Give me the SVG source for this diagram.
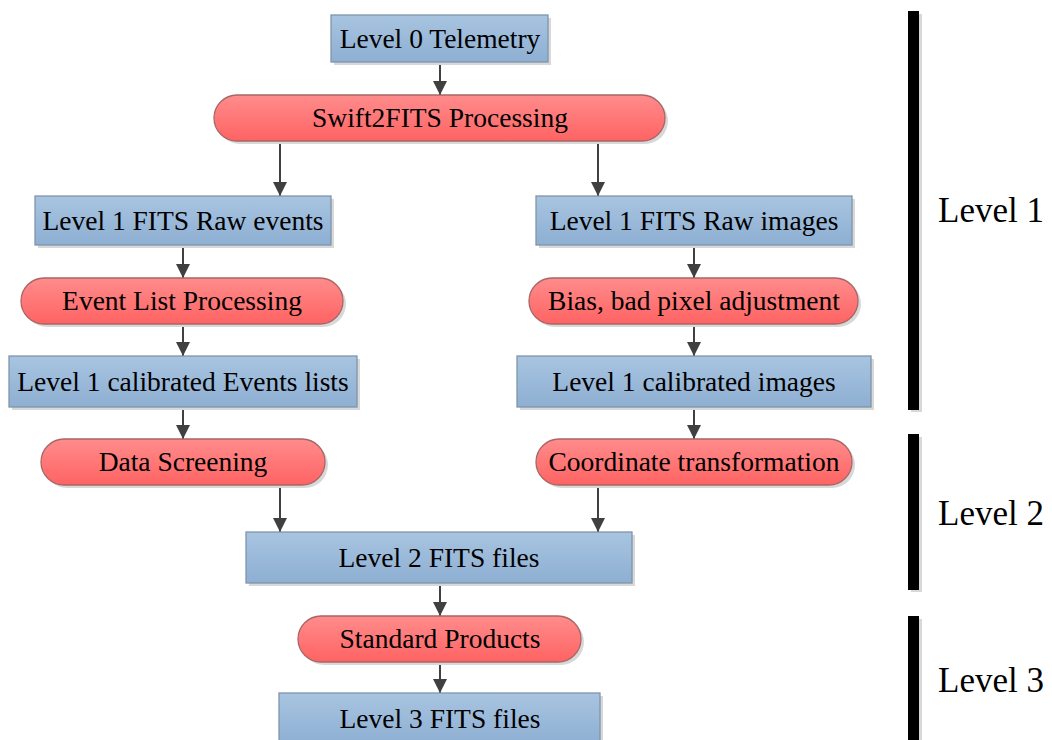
<svg xmlns="http://www.w3.org/2000/svg" width="1052" height="740" viewBox="0 0 1052 740">
<style>
.box{fill:url(#gb);stroke:#7f95ab;stroke-width:1.3}
.pill{fill:url(#gr);stroke:#a86666;stroke-width:1.3}
.sh{fill:#d8d8d8}
.t{font-family:"Liberation Serif","Times New Roman",serif;font-size:27.5px;fill:#000;text-anchor:middle}
.lv{font-family:"Liberation Serif","Times New Roman",serif;font-size:35px;fill:#000}
.c{stroke:#404040;stroke-width:2;fill:none;marker-end:url(#ah)}
.bar{fill:#000}
</style>
<defs>
<linearGradient id="gb" x1="0" y1="0" x2="0" y2="1"><stop offset="0" stop-color="#a8c4e0"/><stop offset="1" stop-color="#8eafd3"/></linearGradient>
<linearGradient id="gr" x1="0" y1="0" x2="0" y2="1"><stop offset="0" stop-color="#ff8c8c"/><stop offset="1" stop-color="#ff6363"/></linearGradient>
<marker id="ah" markerWidth="14" markerHeight="14" refX="14" refY="7" orient="auto" markerUnits="userSpaceOnUse"><path d="M0,0 L14,7 L0,14 Z" fill="#404040"/></marker>
</defs>
<g id="connectors">
<line class="c" x1="440" y1="62" x2="440" y2="95"/>
<line class="c" x1="280" y1="141" x2="280" y2="196"/>
<line class="c" x1="598" y1="141" x2="598" y2="196"/>
<line class="c" x1="183" y1="245" x2="183" y2="278"/>
<line class="c" x1="183" y1="324" x2="183" y2="356"/>
<line class="c" x1="183" y1="407" x2="183" y2="439"/>
<line class="c" x1="694" y1="245" x2="694" y2="278"/>
<line class="c" x1="694" y1="324" x2="694" y2="356"/>
<line class="c" x1="694" y1="407" x2="694" y2="439"/>
<line class="c" x1="280" y1="485" x2="280" y2="532"/>
<line class="c" x1="598" y1="485" x2="598" y2="532"/>
<line class="c" x1="440" y1="583" x2="440" y2="616"/>
<line class="c" x1="440" y1="662" x2="440" y2="693"/>
</g>
<g id="n0"><rect class="sh" x="334" y="18" width="217" height="47"/><rect class="box" x="331" y="15" width="217" height="47"/><text class="t" x="440" y="48">Level 0 Telemetry</text></g>
<g id="n1"><rect class="sh" x="217" y="98" width="451" height="46" rx="23"/><rect class="pill" x="214" y="95" width="451" height="46" rx="23"/><text class="t" x="440" y="127">Swift2FITS Processing</text></g>
<g id="n2"><rect class="sh" x="38" y="199" width="296" height="49"/><rect class="box" x="35" y="196" width="296" height="49"/><text class="t" x="183" y="230">Level 1 FITS Raw events</text></g>
<g id="n3"><rect class="sh" x="539" y="199" width="316" height="49"/><rect class="box" x="536" y="196" width="316" height="49"/><text class="t" x="694" y="230">Level 1 FITS Raw images</text></g>
<g id="n4"><rect class="sh" x="24" y="281" width="322" height="46" rx="23"/><rect class="pill" x="21" y="278" width="322" height="46" rx="23"/><text class="t" x="182" y="310">Event List Processing</text></g>
<g id="n5"><rect class="sh" x="532" y="281" width="329" height="46" rx="23"/><rect class="pill" x="529" y="278" width="329" height="46" rx="23"/><text class="t" x="694" y="310">Bias, bad pixel adjustment</text></g>
<g id="n6"><rect class="sh" x="12" y="359" width="348" height="51"/><rect class="box" x="9" y="356" width="348" height="51"/><text class="t" x="183" y="391">Level 1 calibrated Events lists</text></g>
<g id="n7"><rect class="sh" x="520" y="359" width="354" height="51"/><rect class="box" x="517" y="356" width="354" height="51"/><text class="t" x="694" y="391">Level 1 calibrated images</text></g>
<g id="n8"><rect class="sh" x="44" y="442" width="284" height="46" rx="23"/><rect class="pill" x="41" y="439" width="284" height="46" rx="23"/><text class="t" x="183" y="471">Data Screening</text></g>
<g id="n9"><rect class="sh" x="539" y="442" width="316" height="46" rx="23"/><rect class="pill" x="536" y="439" width="316" height="46" rx="23"/><text class="t" x="694" y="471">Coordinate transformation</text></g>
<g id="n10"><rect class="sh" x="249" y="535" width="386" height="51"/><rect class="box" x="246" y="532" width="386" height="51"/><text class="t" x="439" y="567">Level 2 FITS files</text></g>
<g id="n11"><rect class="sh" x="301" y="619" width="283" height="46" rx="23"/><rect class="pill" x="298" y="616" width="283" height="46" rx="23"/><text class="t" x="440" y="648">Standard Products</text></g>
<g id="n12"><rect class="sh" x="282" y="696" width="321" height="51"/><rect class="box" x="279" y="693" width="321" height="51"/><text class="t" x="440" y="728">Level 3 FITS files</text></g>
<g id="levels">
<rect x="911" y="14" width="11" height="398" fill="#d8d8d8"/><rect class="bar" x="908" y="11" width="11" height="399"/>
<rect x="911" y="437" width="11" height="155" fill="#d8d8d8"/><rect class="bar" x="908" y="434" width="11" height="156"/>
<rect x="911" y="619" width="11" height="121" fill="#d8d8d8"/><rect class="bar" x="908" y="616" width="11" height="124"/>
<text class="lv" x="938" y="222">Level 1</text>
<text class="lv" x="938" y="525">Level 2</text>
<text class="lv" x="938" y="692">Level 3</text>
</g>
</svg>
